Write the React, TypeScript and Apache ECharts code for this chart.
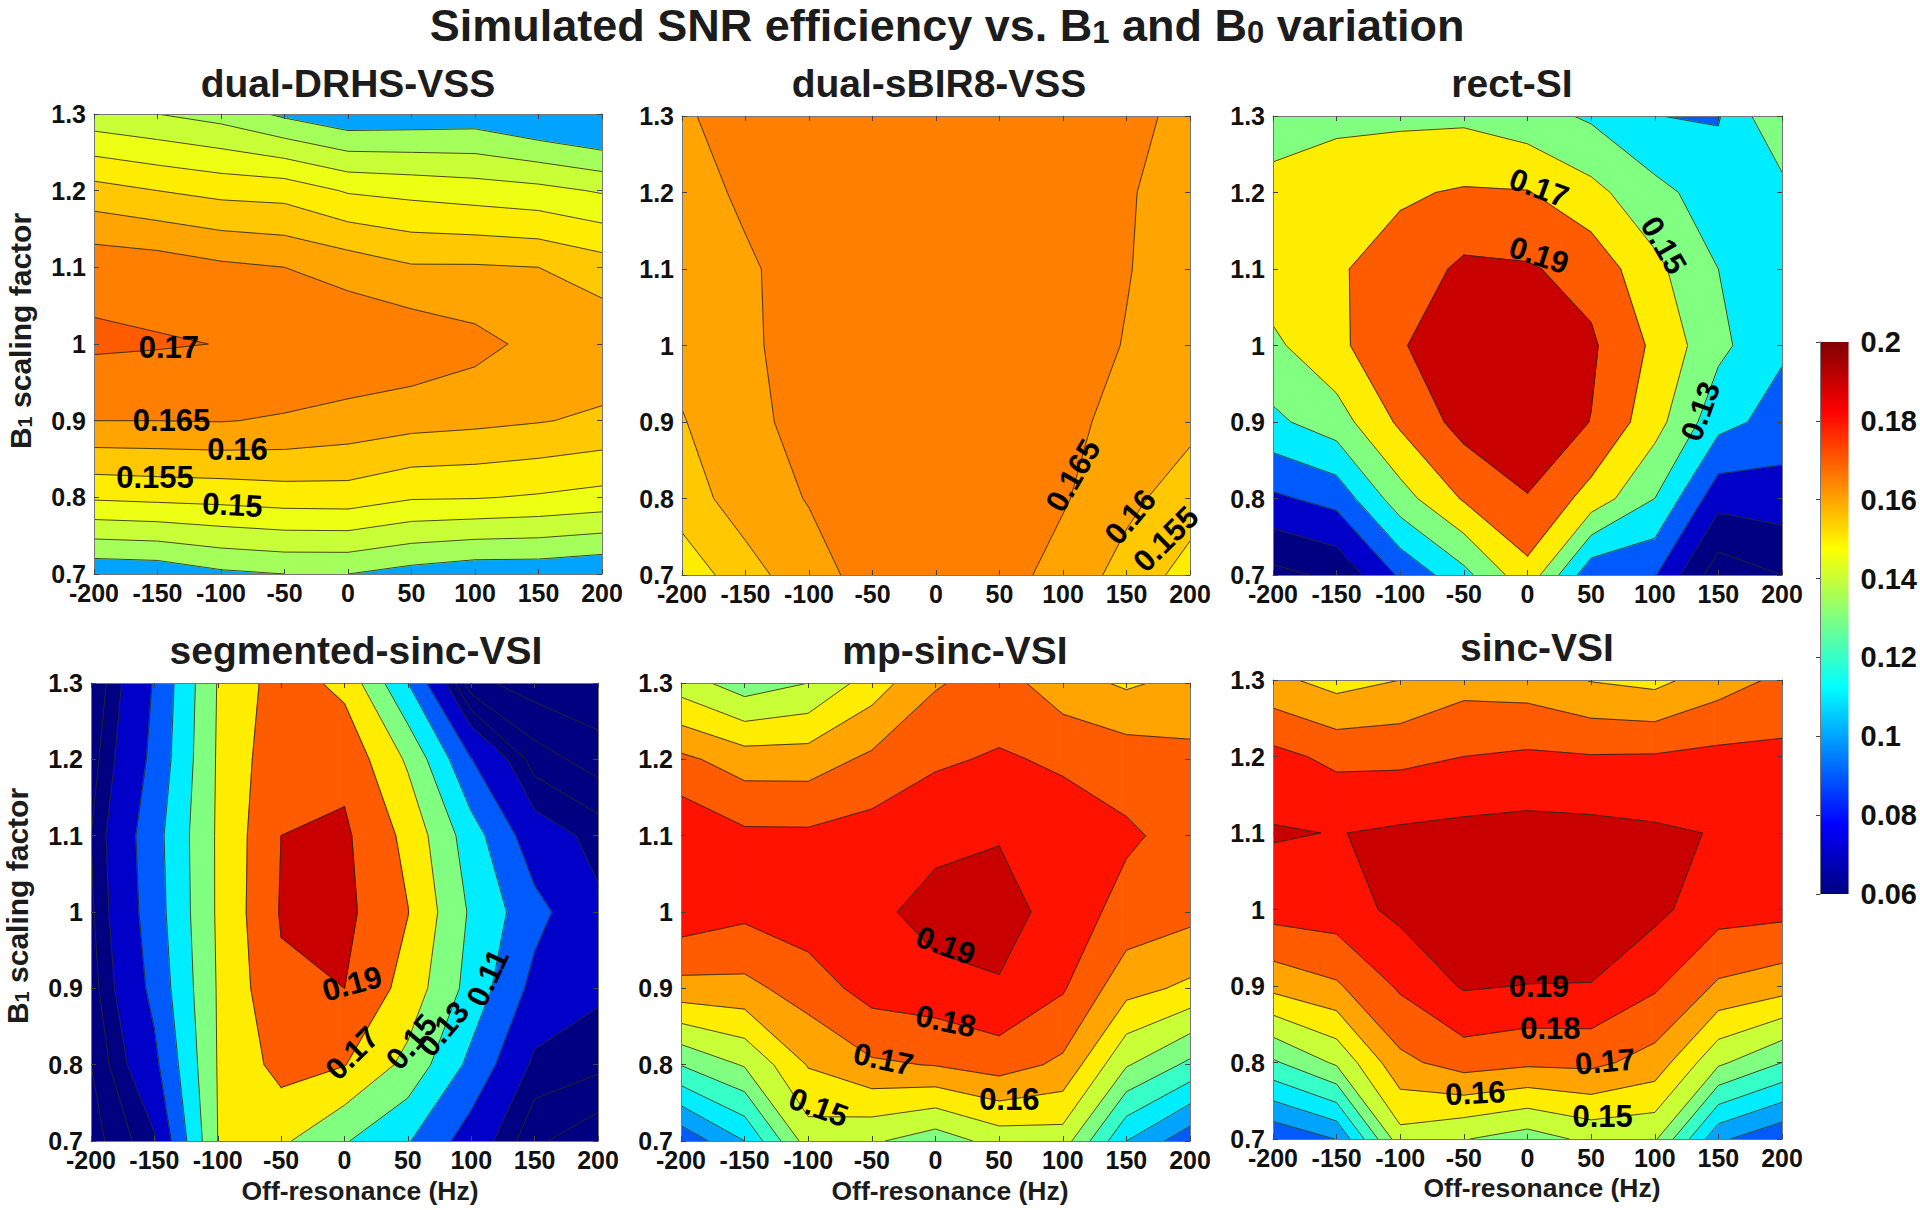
import React, { useEffect, useRef } from "react";
import * as echarts from "echarts";

const FONT = '"Liberation Sans", Arial, sans-serif';

const offResonance = [-200, -150, -100, -50, 0, 50, 100, 150, 200];
const b1Scaling = [0.7, 0.8, 0.9, 1.0, 1.1, 1.2, 1.3];
const colorbarStops = [0, 0.125, 0.375, 0.625, 0.875, 1];

// SNR efficiency: rows follow b1Scaling, columns follow offResonance
const dualDrhsVss = [
  [0.131, 0.1315, 0.134, 0.135, 0.135, 0.133, 0.1315, 0.1315, 0.1304],
  [0.1507, 0.1513, 0.1517, 0.1525, 0.1527, 0.1505, 0.1503, 0.1495, 0.1484],
  [0.165, 0.165, 0.1652, 0.1645, 0.1632, 0.1619, 0.1612, 0.1603, 0.1591],
  [0.1708, 0.1704, 0.1699, 0.1695, 0.1695, 0.1688, 0.1666, 0.1635, 0.1637],
  [0.1685, 0.1678, 0.166, 0.165, 0.163, 0.1605, 0.1605, 0.16, 0.1575],
  [0.1569, 0.155, 0.1535, 0.153, 0.1495, 0.1485, 0.1475, 0.1465, 0.1445],
  [0.1416, 0.14, 0.138, 0.134, 0.131, 0.1315, 0.132, 0.129, 0.1265],
];
const dualSbir8Vss = [
  [0.1515, 0.1582, 0.1628, 0.1672, 0.168, 0.1672, 0.163, 0.1582, 0.153],
  [0.1578, 0.1622, 0.1653, 0.1675, 0.168, 0.168, 0.1655, 0.1612, 0.1575],
  [0.1597, 0.1635, 0.1668, 0.168, 0.1685, 0.168, 0.1665, 0.1632, 0.1612],
  [0.1615, 0.1643, 0.1667, 0.168, 0.1685, 0.168, 0.1668, 0.1648, 0.162],
  [0.162, 0.1645, 0.1665, 0.168, 0.1685, 0.168, 0.167, 0.1652, 0.163],
  [0.1635, 0.1656, 0.167, 0.168, 0.1685, 0.168, 0.168, 0.1653, 0.1635],
  [0.1645, 0.1666, 0.168, 0.168, 0.168, 0.168, 0.168, 0.166, 0.164],
];
const rectSi = [
  [0.0442, 0.0544, 0.093, 0.124, 0.1637, 0.095, 0.0915, 0.0382, 0.05],
  [0.0865, 0.0966, 0.1417, 0.172, 0.189, 0.1623, 0.13, 0.0773, 0.0806],
  [0.1257, 0.141, 0.1735, 0.1973, 0.203, 0.1895, 0.1578, 0.1168, 0.102],
  [0.1461, 0.165, 0.188, 0.205, 0.205, 0.193, 0.166, 0.135, 0.113],
  [0.161, 0.168, 0.178, 0.194, 0.192, 0.183, 0.155, 0.13, 0.118],
  [0.156, 0.162, 0.1675, 0.172, 0.171, 0.156, 0.136, 0.12, 0.123],
  [0.141, 0.145, 0.1456, 0.146, 0.138, 0.127, 0.1102, 0.1085, 0.1495],
];
const segmentedSincVsi = [
  [0.045, 0.068, 0.15, 0.1535, 0.1317, 0.1115, 0.08, 0.052, 0.0425],
  [0.05, 0.085, 0.151, 0.177, 0.1707, 0.1443, 0.1046, 0.0665, 0.0625],
  [0.055, 0.0954, 0.1515, 0.187, 0.19, 0.1625, 0.1225, 0.0838, 0.0725],
  [0.058, 0.1003, 0.1525, 0.1915, 0.195, 0.1705, 0.127, 0.0965, 0.0725],
  [0.06, 0.1023, 0.1525, 0.19, 0.1933, 0.1645, 0.119, 0.0776, 0.066],
  [0.055, 0.095, 0.152, 0.185, 0.1846, 0.147, 0.0905, 0.055, 0.045],
  [0.05, 0.0915, 0.151, 0.18, 0.1646, 0.11, 0.043, 0.035, 0.032],
];
const mpSincVsi = [
  [0.0924, 0.11, 0.145, 0.1415, 0.1343, 0.144, 0.145, 0.11, 0.0933],
  [0.1304, 0.141, 0.1607, 0.1685, 0.1705, 0.1745, 0.168, 0.141, 0.1277],
  [0.1666, 0.1671, 0.1748, 0.184, 0.186, 0.189, 0.181, 0.1635, 0.1579],
  [0.1866, 0.1823, 0.1857, 0.187, 0.1945, 0.1945, 0.1855, 0.1765, 0.173],
  [0.1885, 0.182, 0.1818, 0.1843, 0.1866, 0.1893, 0.1845, 0.1815, 0.1765],
  [0.1722, 0.1653, 0.1652, 0.172, 0.1787, 0.181, 0.1787, 0.1755, 0.1725],
  [0.145, 0.1345, 0.14, 0.155, 0.169, 0.1745, 0.164, 0.1585, 0.163],
];
const sincVsi = [
  [0.0915, 0.1003, 0.146, 0.1405, 0.1352, 0.1425, 0.1415, 0.102, 0.0915],
  [0.1285, 0.1417, 0.1675, 0.1745, 0.172, 0.1725, 0.166, 0.142, 0.13],
  [0.1632, 0.1687, 0.1815, 0.191, 0.1897, 0.1895, 0.1815, 0.1685, 0.1645],
  [0.184, 0.1853, 0.1925, 0.2, 0.2, 0.2, 0.1925, 0.184, 0.183],
  [0.1909, 0.1897, 0.1915, 0.1927, 0.1935, 0.193, 0.1915, 0.1895, 0.186],
  [0.1829, 0.1775, 0.1775, 0.18, 0.1815, 0.1805, 0.1808, 0.1825, 0.1825],
  [0.1625, 0.1562, 0.16, 0.1663, 0.165, 0.1595, 0.157, 0.1655, 0.172],
];

// Contour levels (the first one is the floor region of the panel)
const levelsDrhs = [0.1, 0.135, 0.14, 0.145, 0.15, 0.155, 0.16, 0.165, 0.17];
const levelsSbir = [0.15, 0.155, 0.16, 0.165];
const levelsRect = [0.03, 0.05, 0.07, 0.09, 0.11, 0.13, 0.15, 0.17, 0.19];
const levelsSegmented = [0.02, 0.04, 0.05, 0.06, 0.07, 0.09, 0.11, 0.13, 0.15, 0.17, 0.19];
const levelsFine = [0.09, 0.1, 0.11, 0.12, 0.13, 0.14, 0.15, 0.16, 0.17, 0.18, 0.19];

// Inline contour labels [text, off-resonance, B1, angle in degrees]
const labelsDrhs = [["0.17", -141, 0.995, 0], ["0.165", -139, 0.9, 0], ["0.16", -87, 0.862, 0], ["0.155", -152, 0.826, 0], ["0.15", -91, 0.79, -3]];
const labelsSbir = [["0.165", 108, 0.83, 60], ["0.16", 153, 0.776, 50], ["0.155", 181, 0.747, 45]];
const labelsRect = [["0.17", 9, 1.206, -20], ["0.19", 9, 1.118, -18], ["0.15", 107, 1.131, -60], ["0.13", 136, 0.914, 70]];
const labelsSegmented = [["0.19", 6, 0.906, 15], ["0.17", 6, 0.815, 45], ["0.15", 53, 0.83, 50], ["0.13", 78, 0.847, 50], ["0.11", 113, 0.914, 65]];
const labelsMp = [["0.19", 8, 0.956, -20], ["0.18", 8, 0.857, -12], ["0.17", -41, 0.807, -12], ["0.16", 58, 0.755, 0], ["0.15", -92, 0.744, -20]];
const labelsSinc = [["0.19", 9, 0.9, 0], ["0.18", 18, 0.844, 0], ["0.17", 61, 0.801, 5], ["0.16", -41, 0.76, 3], ["0.15", 59, 0.73, 0]];

const panels = [
  { name: "dual-DRHS-VSS", z: dualDrhsVss, levels: levelsDrhs, labels: labelsDrhs, box: [94, 114, 508, 460], title: [348, 83], yName: [20, 331] },
  { name: "dual-sBIR8-VSS", z: dualSbir8Vss, levels: levelsSbir, labels: labelsSbir, box: [682, 116, 508, 459], title: [939, 83] },
  { name: "rect-SI", z: rectSi, levels: levelsRect, labels: labelsRect, box: [1273, 116, 509, 459], title: [1512, 83] },
  { name: "segmented-sinc-VSI", z: segmentedSincVsi, levels: levelsSegmented, labels: labelsSegmented, box: [91, 683, 507, 458], title: [356, 650], yName: [17, 906], xName: [360, 1191] },
  { name: "mp-sinc-VSI", z: mpSincVsi, levels: levelsFine, labels: labelsMp, box: [681, 683, 509, 458], title: [955, 650], xName: [950, 1191] },
  { name: "sinc-VSI", z: sincVsi, levels: levelsFine, labels: labelsSinc, box: [1273, 680, 509, 459], title: [1537, 647], xName: [1542, 1188] },
];

function jet(t: number): string {
  const c = (v: number) => Math.round(Math.max(0, Math.min(1, v)) * 255).toString(16).padStart(2, "0");
  const r = Math.min(4 * t - 1.5, 4.5 - 4 * t);
  const g = Math.min(4 * t - 0.5, 3.5 - 4 * t);
  const b = Math.min(4 * t + 0.5, 2.5 - 4 * t);
  return "#" + c(r) + c(g) + c(b);
}
const levelColor = (l: number) => jet(Math.max(0, (l - 0.06) / 0.14));

type P = [number, number, number];

function cells(z: number[][]): P[][] {
  const out: P[][] = [];
  for (let j = 0; j < b1Scaling.length - 1; j++) {
    for (let i = 0; i < offResonance.length - 1; i++) {
      out.push([
        [offResonance[i], b1Scaling[j], z[j][i]],
        [offResonance[i + 1], b1Scaling[j], z[j][i + 1]],
        [offResonance[i + 1], b1Scaling[j + 1], z[j + 1][i + 1]],
        [offResonance[i], b1Scaling[j + 1], z[j + 1][i]],
      ]);
    }
  }
  return out;
}
function cross(a: P, b: P, l: number): P {
  const k = (l - a[2]) / (b[2] - a[2]);
  return [a[0] + (b[0] - a[0]) * k, a[1] + (b[1] - a[1]) * k, l];
}
function clipAbove(cell: P[], l: number): P[] {
  const out: P[] = [];
  cell.forEach((a, i) => {
    const b = cell[(i + 1) % cell.length];
    if (a[2] >= l) out.push(a);
    if (a[2] >= l !== b[2] >= l) out.push(cross(a, b, l));
  });
  return out;
}
function segments(cell: P[], l: number): P[][] {
  const hits: P[] = [];
  cell.forEach((a, i) => {
    const b = cell[(i + 1) % cell.length];
    if (a[2] >= l !== b[2] >= l) hits.push(cross(a, b, l));
  });
  if (hits.length === 2) return [[hits[0], hits[1]]];
  if (hits.length === 4) {
    const centre = cell.reduce((s, p) => s + p[2], 0) / 4;
    return cell[0][2] >= l === centre >= l
      ? [[hits[0], hits[1]], [hits[2], hits[3]]]
      : [[hits[1], hits[2]], [hits[3], hits[0]]];
  }
  return [];
}

function contourSeries(p: any, i: number) {
  const all = cells(p.z);
  return {
    type: "custom",
    xAxisIndex: 2 * i,
    yAxisIndex: 2 * i,
    z: 2,
    silent: true,
    clip: true,
    data: [...p.levels, null].map((l: number | null) => [offResonance[0], b1Scaling[0], l]),
    renderItem: (params: any, api: any) => {
      const idx = params.dataIndex;
      const toPx = (q: P) => api.coord([q[0], q[1]]);
      const children: any[] = [];
      if (idx < p.levels.length) {
        const l = p.levels[idx];
        const next = p.levels[idx + 1];
        const fill = levelColor(l);
        all.forEach((cell) => {
          if (next !== undefined && cell.every((q) => q[2] >= next)) return;
          const poly = clipAbove(cell, l);
          if (poly.length < 3) return;
          children.push({
            type: "polygon",
            shape: { points: poly.map(toPx) },
            style: { fill, stroke: fill, lineWidth: 1.2 },
          });
        });
      } else {
        p.levels.slice(1).forEach((l: number) => {
          all.forEach((cell) => {
            segments(cell, l).forEach((seg) => {
              children.push({
                type: "polyline",
                shape: { points: seg.map(toPx) },
                style: { fill: "none", stroke: "#2a2a1a", lineWidth: 1, opacity: 0.85 },
              });
            });
          });
        });
      }
      return { type: "group", children };
    },
  };
}

function labelSeries(p: any, i: number) {
  return {
    type: "custom",
    xAxisIndex: 2 * i,
    yAxisIndex: 2 * i,
    z: 6,
    silent: true,
    clip: false,
    data: p.labels.map((l: any) => [l[1], l[2]]),
    renderItem: (params: any, api: any) => {
      const [text, x, y, angle] = p.labels[params.dataIndex];
      const [px, py] = api.coord([x, y]);
      return {
        type: "text",
        x: px,
        y: py,
        rotation: (angle * Math.PI) / 180,
        style: {
          text,
          fill: "#000",
          align: "center",
          verticalAlign: "middle",
          fontFamily: FONT,
          fontWeight: "bold",
          fontSize: 31,
        },
      };
    },
  };
}

const axisLabel = { fontFamily: FONT, fontWeight: "bold", fontSize: 25, color: "#111" };
const frame = { show: true, lineStyle: { color: "#777", width: 1 } };
const inTick = { show: true, inside: true, length: 5, lineStyle: { color: "#444" } };

function boldText(text: string, x: number, y: number, fontSize: number, rotation = 0, color = "#1c1c1c") {
  return {
    type: "text",
    x,
    y,
    rotation,
    z: 20,
    style: {
      text,
      fill: color,
      align: "center",
      verticalAlign: "middle",
      fontFamily: FONT,
      fontWeight: "bold",
      fontSize,
      rich: {
        s: { fontFamily: FONT, fontWeight: "bold", fontSize: Math.round(fontSize * 0.68), fill: color, verticalAlign: "bottom" },
      },
    },
  };
}

export default function App() {
  const ref = useRef<HTMLDivElement>(null);
  useEffect(() => {
    if (!ref.current) return;
    const chart = echarts.init(ref.current, undefined, { renderer: "svg" });
    const grid: any[] = [];
    const xAxis: any[] = [];
    const yAxis: any[] = [];
    const series: any[] = [];
    panels.forEach((p, i) => {
      const [left, top, width, height] = p.box;
      grid.push({ left, top, width, height, containLabel: false, show: false });
      const xBase = { type: "value", gridIndex: i, min: -200, max: 200, interval: 50, splitLine: { show: false }, axisLine: { ...frame, onZero: false }, axisTick: inTick, z: 5 };
      const yBase = { type: "value", gridIndex: i, min: 0.7, max: 1.3, interval: 0.1, splitLine: { show: false }, axisLine: { ...frame, onZero: false }, axisTick: inTick, z: 5 };
      xAxis.push({ ...xBase, position: "bottom", axisLabel: { ...axisLabel, margin: 6 } });
      xAxis.push({ ...xBase, position: "top", axisLabel: { show: false } });
      yAxis.push({ ...yBase, position: "left", axisLabel: { ...axisLabel, margin: 8 } });
      yAxis.push({ ...yBase, position: "right", axisLabel: { show: false } });
      series.push(contourSeries(p, i), labelSeries(p, i));
    });

    // colour bar
    grid.push({ left: 1820, top: 342, width: 34, height: 552, show: false });
    xAxis.push({ type: "value", gridIndex: 6, min: 0, max: 1, show: false });
    yAxis.push({
      type: "value",
      gridIndex: 6,
      position: "right",
      min: 0.06,
      max: 0.2,
      interval: 0.02,
      splitLine: { show: false },
      axisLine: frame,
      axisTick: { show: true, inside: true, length: 4, lineStyle: { color: "#444" } },
      axisLabel: { ...axisLabel, fontSize: 29, margin: 12 },
      z: 5,
    });
    series.push({
      type: "custom",
      xAxisIndex: 12,
      yAxisIndex: 12,
      silent: true,
      z: 2,
      data: [[0, 0.06, 1, 0.2]],
      renderItem: (_: any, api: any) => {
        const a = api.coord([api.value(0), api.value(3)]);
        const b = api.coord([api.value(2), api.value(1)]);
        return {
          type: "rect",
          shape: { x: a[0], y: a[1], width: b[0] - a[0], height: b[1] - a[1] },
          style: {
            fill: new echarts.graphic.LinearGradient(
              0, 1, 0, 0,
              colorbarStops.map((t) => ({ offset: t, color: jet(t) }))
            ),
          },
        };
      },
    });

    const graphic: any[] = [
      boldText("Simulated SNR efficiency vs. B{s|1} and B{s|0} variation", 947, 25, 45),
    ];
    panels.forEach((p: any) => {
      graphic.push(boldText(p.name, p.title[0], p.title[1], 39));
      if (p.yName) graphic.push(boldText("B{s|1} scaling factor", p.yName[0], p.yName[1], 30, Math.PI / 2));
      if (p.xName) graphic.push(boldText("Off-resonance (Hz)", p.xName[0], p.xName[1], 26.5));
    });

    chart.setOption({ animation: false, backgroundColor: "#fff", grid, xAxis, yAxis, series, graphic });
    return () => chart.dispose();
  }, []);
  return <div ref={ref} style={{ position: "absolute", left: 0, top: 0, width: 1920, height: 1210 }} />;
}
